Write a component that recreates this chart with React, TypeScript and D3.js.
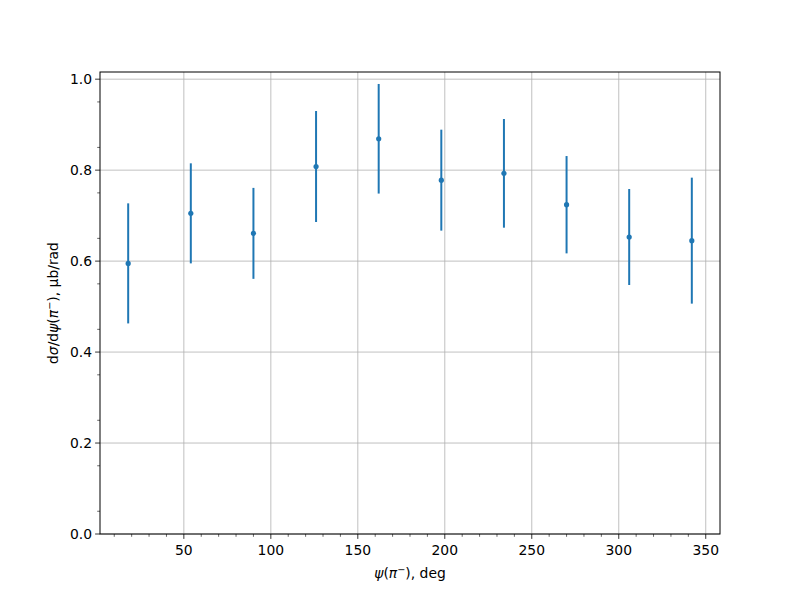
import React from "react";
import * as d3 from "d3";

const psiDeg = [18, 54, 90, 126, 162, 198, 234, 270, 306, 342];
const xsec = [0.595, 0.705, 0.661, 0.808, 0.869, 0.778, 0.793, 0.724, 0.653, 0.645];
const xsecErr = [0.132, 0.11, 0.1, 0.122, 0.1205, 0.111, 0.1195, 0.107, 0.1055, 0.1385];
const xTicks = [50, 100, 150, 200, 250, 300, 350];
const yTicks = [0, 0.2, 0.4, 0.6, 0.8, 1.0];

const W = 800;
const H = 600;
const L = 100;
const R = 720;
const T = 72;
const B = 534;
const FONT = "DejaVu Sans, sans-serif";
const FS = 13.9;
const BLUE = "#1f77b4";

export default function App() {
  const x = d3.scaleLinear().domain([1.8, 358.2]).range([L, R]);
  const y = d3.scaleLinear().domain([0, 1.0158]).range([B, T]);
  const xMinor = d3.range(10, 360, 10).filter((v) => v % 50 !== 0 && x(v) >= L && x(v) <= R);
  const yMinor = d3.range(0.05, 1.0, 0.1).map((v) => Math.round(v * 100) / 100);

  return (
    <svg width={W} height={H} style={{ display: "block", position: "absolute", left: 0, top: 0 }}>
      <rect x={0} y={0} width={W} height={H} fill="white" />
      {xTicks.map((t) => (
        <line key={"gx" + t} x1={x(t)} x2={x(t)} y1={T} y2={B} stroke="#b0b0b0" strokeWidth={0.8} />
      ))}
      {yTicks.map((t) => (
        <line key={"gy" + t} x1={L} x2={R} y1={y(t)} y2={y(t)} stroke="#b0b0b0" strokeWidth={0.8} />
      ))}
      {psiDeg.map((p, i) => (
        <line
          key={"e" + i}
          x1={x(p)}
          x2={x(p)}
          y1={y(xsec[i] - xsecErr[i])}
          y2={y(xsec[i] + xsecErr[i])}
          stroke={BLUE}
          strokeWidth={2}
        />
      ))}
      {psiDeg.map((p, i) => (
        <circle key={"p" + i} cx={x(p)} cy={y(xsec[i])} r={2.6} fill={BLUE} />
      ))}
      <rect x={L} y={T} width={R - L} height={B - T} fill="none" stroke="black" strokeWidth={1} />
      {xTicks.map((t) => (
        <g key={"xt" + t}>
          <line x1={x(t)} x2={x(t)} y1={B} y2={B + 4.9} stroke="black" strokeWidth={0.8} />
          <text x={x(t)} y={B + 20.5} fontFamily={FONT} fontSize={FS} textAnchor="middle" fill="black">
            {t}
          </text>
        </g>
      ))}
      {xMinor.map((t) => (
        <line key={"xm" + t} x1={x(t)} x2={x(t)} y1={B} y2={B + 2.8} stroke="black" strokeWidth={0.6} />
      ))}
      {yTicks.map((t) => (
        <g key={"yt" + t}>
          <line x1={L} x2={L - 4.9} y1={y(t)} y2={y(t)} stroke="black" strokeWidth={0.8} />
          <text x={L - 8} y={y(t) + 5} fontFamily={FONT} fontSize={FS} textAnchor="end" fill="black">
            {t.toFixed(1)}
          </text>
        </g>
      ))}
      {yMinor.map((t) => (
        <line key={"ym" + t} x1={L} x2={L - 2.8} y1={y(t)} y2={y(t)} stroke="black" strokeWidth={0.6} />
      ))}
      <text x={(L + R) / 2} y={578} fontFamily={FONT} fontSize={FS} textAnchor="middle" fill="black">
        <tspan fontStyle="italic">ψ</tspan>
        <tspan>(</tspan>
        <tspan fontStyle="italic">π</tspan>
        <tspan fontSize={FS * 0.7} dy={-5}>−</tspan>
        <tspan dy={5}>), deg</tspan>
      </text>
      <text
        transform={`translate(58, ${(T + B) / 2}) rotate(-90)`}
        fontFamily={FONT}
        fontSize={FS}
        textAnchor="middle"
        fill="black"
      >
        <tspan>d</tspan>
        <tspan fontStyle="italic">σ</tspan>
        <tspan>/d</tspan>
        <tspan fontStyle="italic">ψ</tspan>
        <tspan>(</tspan>
        <tspan fontStyle="italic">π</tspan>
        <tspan fontSize={FS * 0.7} dy={-5}>−</tspan>
        <tspan dy={5}>), μb/rad</tspan>
      </text>
    </svg>
  );
}
